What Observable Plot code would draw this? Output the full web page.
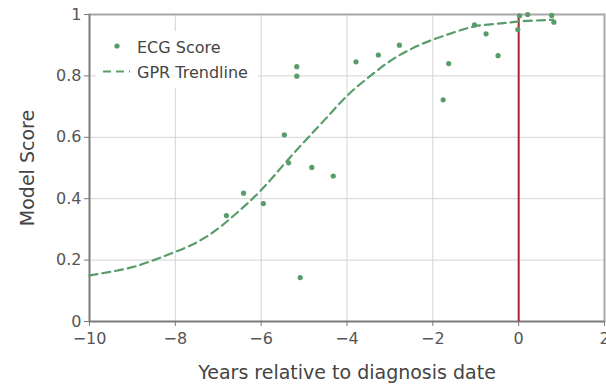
<!DOCTYPE html>
<html>
<head>
<meta charset="utf-8">
<script src="https://cdn.jsdelivr.net/npm/d3@7"></script>
<script src="https://cdn.jsdelivr.net/npm/@observablehq/plot@0.6"></script>
<style>
  html, body { margin: 0; padding: 0; background: #fff; }
  #chart svg { display: block; }
</style>
</head>
<body>
<div id="chart"></div>
<script>
// ECG score observations (years relative to diagnosis, model score)
const ecgYears  = [-6.81, -6.41, -5.95, -5.46, -5.36, -5.17, -5.17, -5.09, -4.82, -4.32, -3.79, -3.27, -2.78, -1.76, -1.63, -1.03, -0.76, -0.48, -0.02, 0.02, 0.21, 0.77, 0.82];
const ecgScores = [0.345, 0.418, 0.384, 0.608, 0.517, 0.830, 0.799, 0.143, 0.502, 0.474, 0.846, 0.868, 0.900, 0.722, 0.840, 0.966, 0.937, 0.866, 0.951, 0.996, 1.000, 0.997, 0.975];

// GPR trendline
const gprYears  = [-10, -9.5, -9, -8.5, -8, -7.5, -7, -6.5, -6, -5.5, -5, -4.5, -4, -3.5, -3, -2.5, -2, -1.5, -1, -0.5, 0, 0.5, 0.8];
const gprScores = [0.150, 0.162, 0.177, 0.200, 0.227, 0.258, 0.303, 0.362, 0.428, 0.507, 0.585, 0.660, 0.735, 0.795, 0.848, 0.888, 0.918, 0.942, 0.962, 0.970, 0.977, 0.981, 0.983];

// Diagnosis date marker
const diagnosisYear = [0];

// Tick labels
const xTicks = [-10, -8, -6, -4, -2, 0, 2];
const yTicks = [0, 0.2, 0.4, 0.6, 0.8, 1];

const legendLabels = ["ECG Score", "GPR Trendline"];

const ecg = ecgYears.map((x, i) => ({x, y: ecgScores[i]}));
const gpr = gprYears.map((x, i) => ({x, y: gprScores[i]}));

const green = "#589d69";
const chart = Plot.plot({
  width: 606,
  height: 386,
  marginLeft: 89,
  marginRight: 2,
  marginTop: 14,
  marginBottom: 65,
  style: {fontFamily: "'DejaVu Sans', Verdana, sans-serif", fontSize: "16px", color: "#555", background: "#fff"},
  x: {domain: [-10, 2]},
  y: {domain: [0, 1]},
  marks: [
    Plot.gridX(xTicks, {stroke: "#d4d4d4", strokeOpacity: 1, strokeWidth: 1}),
    Plot.gridY(yTicks, {stroke: "#d4d4d4", strokeOpacity: 1, strokeWidth: 1}),
    Plot.frame({stroke: "#a8a8a8", strokeWidth: 2}),
    Plot.ruleY([0], {stroke: "#7a7a7a", strokeWidth: 1.5}),
    Plot.ruleX([-10], {stroke: "#7a7a7a", strokeWidth: 1.5}),
    Plot.ruleX(diagnosisYear, {y1: 0, y2: 1, stroke: "#b2222b", strokeWidth: 2}),
    Plot.line(gpr, {x: "x", y: "y", stroke: green, strokeWidth: 2.2, strokeDasharray: "8,5", curve: "natural"}),
    Plot.dot(ecg, {x: "x", y: "y", r: 2.6, fill: green, stroke: "none"}),
    Plot.axisX(xTicks, {
      tickSize: 5, tickPadding: 6, stroke: "#7a7a7a",
      label: "Years relative to diagnosis date", labelAnchor: "center", labelArrow: "none",
      labelOffset: 57, fontSize: 16
    }),
    Plot.axisY(yTicks, {
      tickSize: 5, tickPadding: 3, stroke: "#7a7a7a",
      tickFormat: d => String(d),
      label: "Model Score", labelAnchor: "center", labelArrow: "none",
      labelOffset: 69, fontSize: 16
    })
  ]
});

// Axis titles larger/darker
d3.select(chart).selectAll("[aria-label='x-axis label'] text, [aria-label='y-axis label'] text")
  .style("font-size", "19px").attr("fill", "#444");

// Legend inside the plot (top-left)
const svg = d3.select(chart);
const lg = svg.append("g")
  .attr("font-family", "'DejaVu Sans', Verdana, sans-serif")
  .attr("font-size", 16)
  .attr("text-anchor", "start");
lg.append("rect").attr("x", 96).attr("y", 31).attr("width", 162).attr("height", 57).attr("fill", "#fff");
lg.append("circle").attr("cx", 117).attr("cy", 46).attr("r", 2.6).attr("fill", green);
lg.append("line").attr("x1", 103).attr("x2", 130).attr("y1", 71.5).attr("y2", 71.5)
  .attr("stroke", green).attr("stroke-width", 2.2).attr("stroke-dasharray", "8,5");
lg.selectAll("text").data(legendLabels).join("text")
  .attr("x", 137).attr("y", (d, i) => 53 + i * 24.5)
  .attr("text-anchor", "start")
  .attr("fill", "#444").text(d => d);

document.getElementById("chart").appendChild(chart);
</script>
</body>
</html>
